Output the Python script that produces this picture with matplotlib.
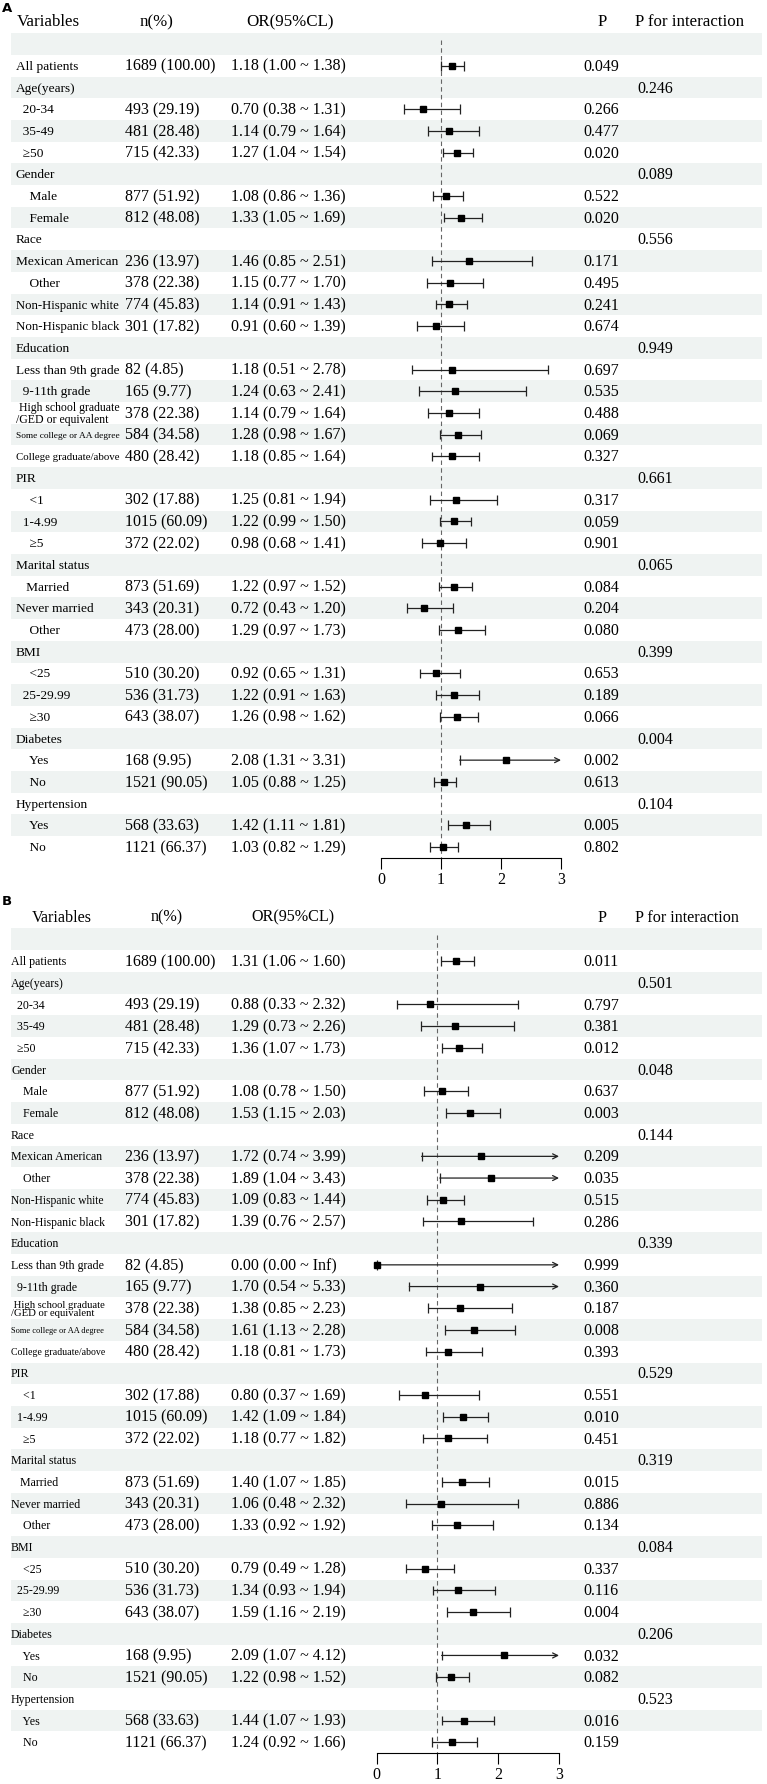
import numpy as np
import matplotlib
matplotlib.use("Agg")
import matplotlib.pyplot as plt
from matplotlib.patches import Rectangle

plt.rcParams["font.family"] = ["Liberation Serif", "DejaVu Serif"]

# ---- data ----
labels = [
    "", "All patients",
    "Age(years)", "  20-34", "  35-49", "  \u226550",
    "Gender", "    Male", "    Female",
    "Race", "Mexican American", "    Other", "Non-Hispanic white", "Non-Hispanic black",
    "Education", "Less than 9th grade", "  9-11th grade", " High school graduate\n/GED or equivalent",
    "Some college or AA degree", "College graduate/above",
    "PIR", "    <1", "  1-4.99", "    \u22655",
    "Marital status", "   Married", "Never married", "    Other",
    "BMI", "    <25", "  25-29.99", "    \u226530",
    "Diabetes", "    Yes", "    No",
    "Hypertension", "    Yes", "    No",
]

n_pct = [
    "", "1689 (100.00)",
    "", "493 (29.19)", "481 (28.48)", "715 (42.33)",
    "", "877 (51.92)", "812 (48.08)",
    "", "236 (13.97)", "378 (22.38)", "774 (45.83)", "301 (17.82)",
    "", "82 (4.85)", "165 (9.77)", "378 (22.38)", "584 (34.58)", "480 (28.42)",
    "", "302 (17.88)", "1015 (60.09)", "372 (22.02)",
    "", "873 (51.69)", "343 (20.31)", "473 (28.00)",
    "", "510 (30.20)", "536 (31.73)", "643 (38.07)",
    "", "168 (9.95)", "1521 (90.05)",
    "", "568 (33.63)", "1121 (66.37)",
]

nan = np.nan
inf = np.inf

# panel A
or_a = [nan, 1.18, nan, 0.70, 1.14, 1.27, nan, 1.08, 1.33, nan, 1.46, 1.15, 1.14, 0.91,
        nan, 1.18, 1.24, 1.14, 1.28, 1.18, nan, 1.25, 1.22, 0.98, nan, 1.22, 0.72, 1.29,
        nan, 0.92, 1.22, 1.26, nan, 2.08, 1.05, nan, 1.42, 1.03]
lo_a = [nan, 1.00, nan, 0.38, 0.79, 1.04, nan, 0.86, 1.05, nan, 0.85, 0.77, 0.91, 0.60,
        nan, 0.51, 0.63, 0.79, 0.98, 0.85, nan, 0.81, 0.99, 0.68, nan, 0.97, 0.43, 0.97,
        nan, 0.65, 0.91, 0.98, nan, 1.31, 0.88, nan, 1.11, 0.82]
hi_a = [nan, 1.38, nan, 1.31, 1.64, 1.54, nan, 1.36, 1.69, nan, 2.51, 1.70, 1.43, 1.39,
        nan, 2.78, 2.41, 1.64, 1.67, 1.64, nan, 1.94, 1.50, 1.41, nan, 1.52, 1.20, 1.73,
        nan, 1.31, 1.63, 1.62, nan, 3.31, 1.25, nan, 1.81, 1.29]
p_a = ["", "0.049", "", "0.266", "0.477", "0.020", "", "0.522", "0.020",
       "", "0.171", "0.495", "0.241", "0.674", "", "0.697", "0.535", "0.488", "0.069", "0.327",
       "", "0.317", "0.059", "0.901", "", "0.084", "0.204", "0.080",
       "", "0.653", "0.189", "0.066", "", "0.002", "0.613", "", "0.005", "0.802"]
pint_a = ["", "", "0.246", "", "", "", "0.089", "", "", "0.556", "", "", "", "",
          "0.949", "", "", "", "", "", "0.661", "", "", "", "0.065", "", "", "",
          "0.399", "", "", "", "0.004", "", "", "0.104", "", ""]

# panel B
or_b = [nan, 1.31, nan, 0.88, 1.29, 1.36, nan, 1.08, 1.53, nan, 1.72, 1.89, 1.09, 1.39,
        nan, 0.00, 1.70, 1.38, 1.61, 1.18, nan, 0.80, 1.42, 1.18, nan, 1.40, 1.06, 1.33,
        nan, 0.79, 1.34, 1.59, nan, 2.09, 1.22, nan, 1.44, 1.24]
lo_b = [nan, 1.06, nan, 0.33, 0.73, 1.07, nan, 0.78, 1.15, nan, 0.74, 1.04, 0.83, 0.76,
        nan, 0.00, 0.54, 0.85, 1.13, 0.81, nan, 0.37, 1.09, 0.77, nan, 1.07, 0.48, 0.92,
        nan, 0.49, 0.93, 1.16, nan, 1.07, 0.98, nan, 1.07, 0.92]
hi_b = [nan, 1.60, nan, 2.32, 2.26, 1.73, nan, 1.50, 2.03, nan, 3.99, 3.43, 1.44, 2.57,
        nan, inf, 5.33, 2.23, 2.28, 1.73, nan, 1.69, 1.84, 1.82, nan, 1.85, 2.32, 1.92,
        nan, 1.28, 1.94, 2.19, nan, 4.12, 1.52, nan, 1.93, 1.66]
p_b = ["", "0.011", "", "0.797", "0.381", "0.012", "", "0.637", "0.003",
       "", "0.209", "0.035", "0.515", "0.286", "", "0.999", "0.360", "0.187", "0.008", "0.393",
       "", "0.551", "0.010", "0.451", "", "0.015", "0.886", "0.134",
       "", "0.337", "0.116", "0.004", "", "0.032", "0.082", "", "0.016", "0.159"]
pint_b = ["", "", "0.501", "", "", "", "0.048", "", "", "0.144", "", "", "", "",
          "0.339", "", "", "", "", "", "0.529", "", "", "", "0.319", "", "", "",
          "0.084", "", "", "", "0.206", "", "", "0.523", "", ""]

headers = ["Variables", "n(%)", "OR(95%CL)", "P", "P for interaction"]
xticks = [0, 1, 2, 3]

# ---- layout (pixels) ----
W, H = 767, 1784
ROW_H = 21.7
NROWS = len(labels)
BAND = "#eff3f2"

fig = plt.figure(figsize=(W / 100, H / 100), dpi=100)


def px_axes(x0, y0, w, h):
    return fig.add_axes([x0 / W, 1 - (y0 + h) / H, w / W, h / H])


def fmt_ci(e, lo, hi):
    def f(v):
        return "Inf" if np.isinf(v) else f"{v:.2f}"
    return f"{f(e)} ({f(lo)} ~ {f(hi)})"


def panel(tag, tag_y, top, fx0, fx1, lab_x, lab_fs, lab_right, hdr_x, hdr_fs,
          ors, los, his, ps, pints):
    body_h = NROWS * ROW_H
    tab = px_axes(0, top, W, body_h)
    tab.set_xlim(0, W)
    tab.set_ylim(NROWS, 0)
    tab.axis("off")

    fig.text(2 / W, 1 - tag_y / H, tag, family="DejaVu Sans", weight="bold",
             fontsize=9.5, va="center", ha="left")

    for i in range(0, NROWS, 2):
        tab.add_patch(Rectangle((11, i), 751, 1, facecolor=BAND, lw=0, zorder=0))

    hy = -0.5
    tab.text(hdr_x[0], hy, headers[0], fontsize=hdr_fs, ha="left", va="center", clip_on=False)
    tab.text(hdr_x[1], hy, headers[1], fontsize=hdr_fs, ha="center", va="center", clip_on=False)
    tab.text(hdr_x[2], hy, headers[2], fontsize=hdr_fs, ha="center", va="center", clip_on=False)
    tab.text(602, hy, headers[3], fontsize=hdr_fs, ha="center", va="center", clip_on=False)
    tab.text(635, hy, headers[4], fontsize=hdr_fs, ha="left", va="center", clip_on=False)

    lab_texts = []
    for i in range(NROWS):
        y = i + 0.55
        if labels[i]:
            multi = "\n" in labels[i]
            t = tab.text(lab_x, y, labels[i], fontsize=lab_fs, ha="left", va="center",
                         linespacing=0.95 if multi else 1.2)
            lab_texts.append(t)
        if n_pct[i]:
            tab.text(125, y, n_pct[i], fontsize=11.5, ha="left", va="center")
        if not np.isnan(ors[i]):
            tab.text(231, y, fmt_ci(ors[i], los[i], his[i]), fontsize=11.5,
                     ha="left", va="center")
        if ps[i]:
            tab.text(601, y, ps[i], fontsize=11.5, ha="center", va="center")
        if pints[i]:
            tab.text(637, y, pints[i], fontsize=11.5, ha="left", va="center")

    # shrink long labels so they stay inside the first column
    fig.canvas.draw()
    rend = fig.canvas.get_renderer()
    for t in lab_texts:
        bb = t.get_window_extent(rend)
        limit = lab_right - bb.x0
        if bb.width > limit:
            t.set_fontsize(t.get_fontsize() * limit / bb.width)

    # forest column
    ax = px_axes(fx0, top, fx1 - fx0, body_h)
    ax.set_xlim(0, 3)
    ax.set_ylim(NROWS, 0)
    ax.patch.set_visible(False)
    for s in ("left", "right", "top"):
        ax.spines[s].set_visible(False)
    ax.spines["bottom"].set_linewidth(0.8)
    ax.set_yticks([])
    ax.set_xticks(xticks)
    ax.set_xticklabels([str(v) for v in xticks], fontsize=11.5)
    ax.tick_params(axis="x", length=8, width=0.8, pad=2)

    ax.vlines(1, 0.3, NROWS, colors="#666666", linestyles=(0, (4, 3)), lw=0.8)

    for i in range(NROWS):
        e, lo, hi = ors[i], los[i], his[i]
        if np.isnan(e):
            continue
        y = i + 0.5
        if hi > 3:
            ax.annotate("", xy=(3, y), xytext=(lo, y),
                        arrowprops=dict(arrowstyle="->", lw=0.9, color="#222222",
                                        shrinkA=0, shrinkB=0, mutation_scale=9))
            ax.vlines(lo, y - 0.22, y + 0.22, colors="#222222", lw=0.9, clip_on=False)
        else:
            ax.hlines(y, lo, hi, colors="#222222", lw=0.9)
            ax.vlines([lo, hi], y - 0.22, y + 0.22, colors="#222222", lw=0.9)
        ax.plot(e, y, "s", ms=4.3, color="black", clip_on=False, zorder=5)


panel("A", 9, 33.2, 381, 561, 16, 9.6, 120, [17, 157, 290], 12.2,
      or_a, lo_a, hi_a, p_a, pint_a)
panel("B", 902, 928.5, 376.5, 559, 11, 8.6, 104, [32, 167, 293], 11.6,
      or_b, lo_b, hi_b, p_b, pint_b)

fig.savefig("out.png", dpi=100)
